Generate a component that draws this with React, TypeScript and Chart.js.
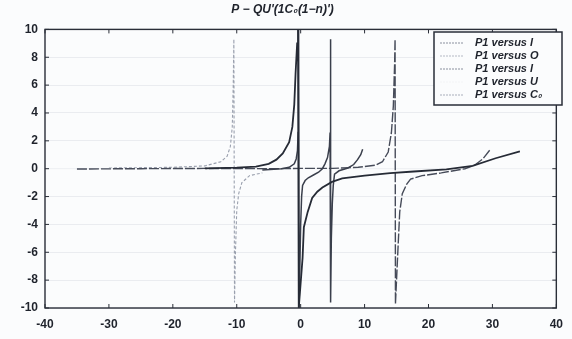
import React, { useEffect, useRef } from "react";
import { Chart, registerables } from "chart.js";

Chart.register(...registerables);

const titleText = "P − QU'(1C₀(1−n)')";
const legendLabels = ["P1 versus I", "P1 versus O", "P1 versus I", "P1 versus U", "P1 versus C₀"];
const xTicks = [-40, -30, -20, -10, 0, 10, 20, 30, 40];
const yTicks = [-10, -8, -6, -4, -2, 0, 2, 4, 6, 8, 10];

// Series values as [x, y] pairs
const seriesI1: number[][] = [
  [-15, 0.02], [-10, 0.08], [-7, 0.15], [-5, 0.35], [-3.8, 0.65], [-2.8, 1.1], [-1.8, 1.9],
  [-1.3, 3.0], [-1.0, 4.6], [-0.8, 6.8], [-0.55, 9.0], [-0.42, 10], [-0.3, -10],
  [0.3, -6.4], [0.5, -4.2], [1.1, -3.1], [1.8, -2.1], [2.6, -1.65], [3.4, -1.35], [4.9, -0.95],
  [6.5, -0.7], [10, -0.5], [14, -0.32], [17.7, -0.2], [22.8, -0.05], [26.9, 0.2], [30.5, 0.75], [34.3, 1.25],
];
const seriesO: number[][] = [
  [-6, -0.1], [-3, 0], [-1.8, 0.1], [-1.0, 0.35], [-0.7, 0.7], [-0.5, 1.3], [-0.4, 2.6], [-0.33, 6],
  [-0.3, 10], [-0.25, -10], [0, -4], [0.15, -2.0], [0.3, -1.2], [0.7, -0.85], [1.2, -0.65], [2.0, -0.45],
  [2.8, -0.25], [3.4, 0], [3.8, 0.35], [4.2, 0.8], [4.5, 1.6], [4.6, 2.6], [4.65, 5], [4.68, 9.3],
  [4.72, -9.6], [4.8, -5], [4.95, -2.5], [5.1, -1.2], [5.3, -0.4], [6, -0.15], [7.4, 0.05], [8.3, 0.3],
  [8.9, 0.65], [9.4, 1.0], [9.7, 1.4],
];
const seriesI2: number[][] = [
  [-35, -0.02], [-25, 0], [-15, 0.02], [-5, 0.0], [0, 0.02], [5, 0.02], [9, 0.1], [11.7, 0.25],
  [12.8, 0.5], [13.7, 1.2], [14.2, 2.6], [14.5, 4.5], [14.7, 7.5], [14.77, 9.3], [14.83, -9.7],
  [15.2, -6], [15.5, -3.1], [15.9, -1.8], [16.6, -1.1], [17.2, -0.75], [19, -0.5], [22, -0.3],
  [25.7, 0], [27.2, 0.25], [28.5, 0.7], [29.7, 1.4],
];
const seriesU: number[][] = [
  [-40, 0], [-20, 0], [0, 0], [20, 0], [40, 0],
];
const seriesC0: number[][] = [
  [-30, 0.05], [-20, 0.1], [-15, 0.2], [-12.5, 0.5], [-11.5, 0.9], [-11, 1.6], [-10.7, 3],
  [-10.55, 6], [-10.45, 9.3], [-10.35, -9.6], [-10.2, -6], [-10, -3], [-9.7, -1.8], [-9.2, -1.0],
  [-8, -0.5], [-6, -0.3],
];

const toPts = (s: number[][]) => s.map(([x, y]) => ({ x, y }));

const legendSample = ["#8a909e", "#b4b9c4", "#8a909e", "#f3f4f6", "#a9aebb"];

const framePlugin = {
  id: "frameTicks",
  beforeDraw(chart: any) {
    const { ctx } = chart;
    ctx.save();
    ctx.fillStyle = "#fbfcfd";
    ctx.fillRect(0, 0, chart.width, chart.height);
    ctx.restore();
  },
  afterDraw(chart: any) {
    const { ctx, chartArea: a, scales } = chart;
    ctx.save();
    ctx.strokeStyle = "#2a2e38";
    ctx.lineWidth = 1.4;
    ctx.strokeRect(a.left, a.top, a.right - a.left, a.bottom - a.top);
    ctx.lineWidth = 1;
    const tl = 4;
    xTicks.forEach((v) => {
      const px = scales.x.getPixelForValue(v);
      ctx.beginPath();
      ctx.moveTo(px, a.bottom);
      ctx.lineTo(px, a.bottom - tl);
      ctx.moveTo(px, a.top);
      ctx.lineTo(px, a.top + tl);
      ctx.stroke();
    });
    yTicks.forEach((v) => {
      const py = scales.y.getPixelForValue(v);
      ctx.beginPath();
      ctx.moveTo(a.left, py);
      ctx.lineTo(a.left + tl, py);
      ctx.moveTo(a.right, py);
      ctx.lineTo(a.right - tl, py);
      ctx.stroke();
    });
    // legend box
    const bx = 434, by = 32, bw = 128, bh = 73;
    ctx.fillStyle = "#fbfcfd";
    ctx.fillRect(bx, by, bw, bh);
    ctx.strokeStyle = "#2a2e38";
    ctx.lineWidth = 1.5;
    ctx.strokeRect(bx, by, bw, bh);
    ctx.font = "italic bold 11px 'Liberation Sans', Arial, sans-serif";
    ctx.textBaseline = "middle";
    chart.data.datasets.forEach((ds: any, i: number) => {
      const ry = by + 11 + i * 13;
      ctx.save();
      ctx.strokeStyle = legendSample[i];
      ctx.lineWidth = 1;
      ctx.setLineDash([2, 1]);
      ctx.beginPath();
      ctx.moveTo(bx + 6, ry);
      ctx.lineTo(bx + 30, ry);
      ctx.stroke();
      ctx.restore();
      ctx.fillStyle = "#1f232c";
      ctx.fillText(ds.label, bx + 41, ry);
    });
    ctx.restore();
  },
};

export default function App() {
  const ref = useRef<HTMLCanvasElement>(null);
  useEffect(() => {
    document.body.style.margin = "0";
    const c = ref.current!;
    const common = { showLine: true, pointRadius: 0, fill: false, tension: 0 };
    const chart = new Chart(c, {
      type: "scatter",
      data: {
        datasets: [
          { ...common, label: legendLabels[0], data: toPts(seriesI1), borderColor: "#262b36", borderWidth: 1.8, borderDash: [] },
          { ...common, label: legendLabels[1], data: toPts(seriesO), borderColor: "#3a3f4c", borderWidth: 1.5, borderDash: [] },
          { ...common, label: legendLabels[2], data: toPts(seriesI2), borderColor: "#464b59", borderWidth: 1.4, borderDash: [10, 2] },
          { ...common, label: legendLabels[3], data: toPts(seriesU), borderColor: "#f1f2f5", borderWidth: 1, borderDash: [] },
          { ...common, label: legendLabels[4], data: toPts(seriesC0), borderColor: "#9aa0ae", borderWidth: 1.1, borderDash: [3, 2] },
        ],
      },
      options: {
        responsive: false,
        animation: false,
        layout: { padding: { left: 0, right: 7, top: 0, bottom: 0 } },
        plugins: {
          legend: { display: false },
          tooltip: { enabled: false },
          title: {
            display: true,
            text: titleText,
            color: "#1f232c",
            font: { size: 12, style: "italic", weight: "bold", family: "'Liberation Sans', Arial, sans-serif" },
            padding: { top: 2, bottom: 13 },
          },
        },
        scales: {
          x: {
            type: "linear",
            min: -40,
            max: 40,
            afterBuildTicks: (s: any) => { s.ticks = xTicks.map((v) => ({ value: v })); },
            afterFit: (s: any) => { s.height = 31; },
            grid: { display: false, drawTicks: false },
            border: { display: false },
            ticks: { color: "#1f232c", padding: 9, maxRotation: 0, font: { size: 12, weight: "bold", family: "'Liberation Sans', Arial, sans-serif" } },
          },
          y: {
            type: "linear",
            min: -10,
            max: 10,
            afterBuildTicks: (s: any) => { s.ticks = yTicks.map((v) => ({ value: v })); },
            afterFit: (s: any) => { s.width = 45; },
            grid: { display: true, drawTicks: false, color: "rgba(175,182,198,0.22)" },
            border: { display: false },
            ticks: { color: "#1f232c", padding: 7, font: { size: 12, weight: "bold", family: "'Liberation Sans', Arial, sans-serif" } },
          },
        },
      },
      plugins: [framePlugin],
    } as any);
    return () => chart.destroy();
  }, []);
  return (
    <div style={{ width: 572, height: 339, background: "#fbfcfd" }}>
      <canvas ref={ref} width={572} height={339} style={{ display: "block" }} />
    </div>
  );
}
